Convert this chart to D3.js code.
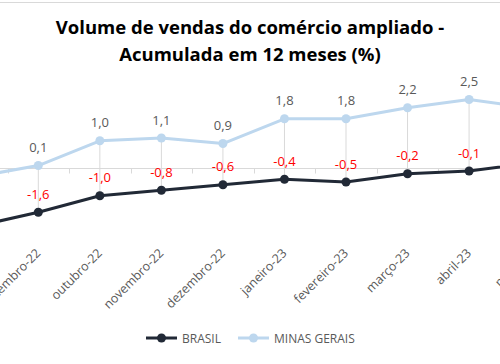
<!DOCTYPE html>
<html>
<head>
<meta charset="utf-8">
<script src="https://cdn.jsdelivr.net/npm/d3@7"></script>
<style>
  html, body { margin: 0; padding: 0; background: #ffffff; }
  svg { display: block; }
</style>
</head>
<body>
<svg id="chart" width="500" height="364"></svg>
<script>
// ---- data ----
const categories = ["agosto-22","setembro-22","outubro-22","novembro-22","dezembro-22","janeiro-23","fevereiro-23","março-23","abril-23","maio-23"];
const brasil = [-2.1, -1.6, -1.0, -0.8, -0.6, -0.4, -0.5, -0.2, -0.1, 0.2];
const minas  = [-0.3,  0.1,  1.0,  1.1,  0.9,  1.8,  1.8,  2.2,  2.5, 2.2];
const seriesNames = ["BRASIL", "MINAS GERAIS"];
const titleLines = ["Volume de vendas do comércio ampliado -", "Acumulada em 12 meses (%)"];

const colors = { brasil: "#212936", minas: "#bdd7ee" };
const fmt = v => d3.format(".1f")(v).replace(".", ",").replace("−", "-");

const svg = d3.select("#chart");
const W = 500, H = 364;

// top border line
svg.append("line").attr("x1", 0).attr("x2", W).attr("y1", 2.5).attr("y2", 2.5)
  .attr("stroke", "#d9d9d9").attr("stroke-width", 1);

// title
svg.append("g").selectAll("text").data(titleLines).enter().append("text")
  .attr("x", 250).attr("y", (d, i) => 34 + i * 27)
  .attr("text-anchor", "middle")
  .attr("font-family", "'Open Sans', sans-serif").attr("font-weight", "bold")
  .attr("font-size", 18.5).attr("fill", "#000")
  .text(d => d);

// scales
const x = d3.scaleBand().domain(categories).range([-54, 561.4]).paddingInner(0).paddingOuter(0);
const bw = x.bandwidth();
const cx = c => x(c) + bw / 2;
const y = d3.scaleLinear().domain([-2.5, 3]).range([237.05, 85.8]);

// high-low lines
const hl = svg.append("g");
categories.forEach((c, i) => {
  hl.append("line")
    .attr("x1", cx(c)).attr("x2", cx(c))
    .attr("y1", y(Math.max(brasil[i], minas[i]))).attr("y2", y(Math.min(brasil[i], minas[i])))
    .attr("stroke", "#d9d9d9").attr("stroke-width", 1);
});

// zero axis line + tick marks at category boundaries
const y0 = Math.round(y(0)) + 0.5;
svg.append("line").attr("x1", x.range()[0]).attr("x2", x.range()[1])
  .attr("y1", y0).attr("y2", y0).attr("stroke", "#d9d9d9").attr("stroke-width", 1);
const bounds = categories.map(c => x(c)).concat([x.range()[1]]);
svg.append("g").selectAll("line").data(bounds).enter().append("line")
  .attr("x1", d => Math.round(d) + 0.5).attr("x2", d => Math.round(d) + 0.5)
  .attr("y1", y0).attr("y2", y0 + 5)
  .attr("stroke", "#d9d9d9").attr("stroke-width", 1);

// category labels via axis
const axisG = svg.append("g").attr("transform", "translate(0,254)")
  .call(d3.axisBottom(x).tickSize(0).tickPadding(0));
axisG.select(".domain").remove();
axisG.selectAll("text")
  .attr("x", 0).attr("y", 0).attr("dy", 0)
  .attr("text-anchor", "end")
  .attr("transform", "translate(3,0) rotate(-45)")
  .attr("font-family", "'Open Sans', sans-serif").attr("font-size", 12.5)
  .attr("fill", "#595959");

// lines
const line = d3.line().x((d, i) => cx(categories[i])).y(d => y(d));
function drawSeries(vals, color, labelColor) {
  svg.append("path").datum(vals).attr("d", line)
    .attr("fill", "none").attr("stroke", color).attr("stroke-width", 3)
    .attr("stroke-linejoin", "round").attr("stroke-linecap", "round");
  svg.append("g").selectAll("circle").data(vals).enter().append("circle")
    .attr("cx", (d, i) => cx(categories[i])).attr("cy", d => y(d))
    .attr("r", 4.5).attr("fill", color);
  svg.append("g").selectAll("text").data(vals).enter().append("text")
    .attr("x", (d, i) => cx(categories[i])).attr("y", d => y(d) - 13.5)
    .attr("text-anchor", "middle")
    .attr("font-family", "'Open Sans', sans-serif").attr("font-size", 13)
    .attr("fill", labelColor)
    .text(d => fmt(d));
}
drawSeries(minas, colors.minas, "#595959");
drawSeries(brasil, colors.brasil, "#ff0000");

// legend
const legendItems = [
  { name: seriesNames[0], color: colors.brasil, x: 146 },
  { name: seriesNames[1], color: colors.minas, x: 238 }
];
const lg = svg.append("g");
legendItems.forEach(it => {
  lg.append("line").attr("x1", it.x).attr("x2", it.x + 31).attr("y1", 338).attr("y2", 338)
    .attr("stroke", it.color).attr("stroke-width", 3);
  lg.append("circle").attr("cx", it.x + 15.5).attr("cy", 338).attr("r", 4.5).attr("fill", it.color);
  lg.append("text").attr("x", it.x + 36).attr("y", 342.5)
    .attr("font-family", "'Open Sans', sans-serif").attr("font-size", 12)
    .attr("fill", "#595959").text(it.name);
});
</script>
</body>
</html>
